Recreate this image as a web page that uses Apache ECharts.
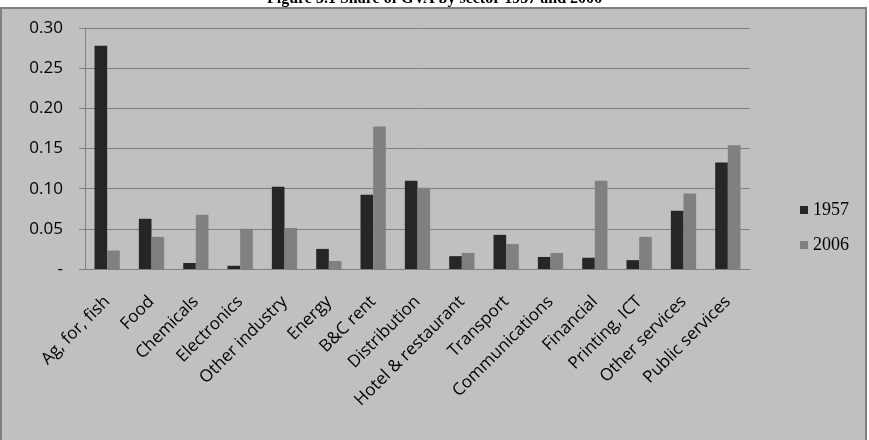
<!DOCTYPE html>
<html>
<head>
<meta charset="utf-8">
<script src="https://cdn.jsdelivr.net/npm/echarts@6/dist/echarts.min.js"></script>
<style>
  html, body { margin: 0; padding: 0; background: #fff; }
  #chart { width: 869px; height: 440px; }
</style>
</head>
<body>
<div id="chart"></div>
<script>
// sectors along the x axis
const sectors = ['Ag, for, fish', 'Food', 'Chemicals', 'Electronics', 'Other industry', 'Energy', 'B&C rent',
  'Distribution', 'Hotel & restaurant', 'Transport', 'Communications', 'Financial', 'Printing, ICT',
  'Other services', 'Public services']
// share of GVA, 1957
const share1957 = [0.278, 0.0625, 0.0075, 0.004, 0.1025, 0.025, 0.0925, 0.11, 0.016, 0.0425, 0.015, 0.014, 0.011, 0.0725, 0.1325]
// share of GVA, 2006
const share2006 = [0.023, 0.040, 0.0675, 0.050, 0.051, 0.010, 0.1775, 0.101, 0.020, 0.031, 0.020, 0.110, 0.040, 0.094, 0.154]
const seriesNames = ['1957', '2006']

const chart = echarts.init(document.getElementById('chart'))
chart.setOption({
  animation: false,
  title: {
    text: 'Figure 5.1 Share of GVA by sector 1957 and 2006',
    left: 'center',
    top: -14,
    textStyle: {fontFamily: 'Liberation Serif', fontWeight: 'bold', fontSize: 16, color: '#000'}
  },
  // grey chart frame behind everything
  graphic: [{
    type: 'rect',
    z: -10,
    silent: true,
    shape: {x: 1, y: 8, width: 865, height: 440},
    style: {fill: '#c0c0c0', stroke: '#808080', lineWidth: 2}
  }],
  legend: {
    orient: 'vertical',
    left: 795,
    top: 196,
    itemWidth: 8,
    itemHeight: 8,
    itemGap: 17,
    icon: 'rect',
    textStyle: {fontFamily: 'Liberation Serif', fontSize: 18, color: '#000'},
    data: seriesNames
  },
  grid: {left: 85, right: 119, top: 28, bottom: 171},
  xAxis: {
    type: 'category',
    data: sectors,
    axisLine: {lineStyle: {color: '#808080', width: 1}},
    axisTick: {length: 6, lineStyle: {color: '#808080'}},
    axisLabel: {
      rotate: 45,
      interval: 0,
      margin: 30,
      fontFamily: 'Open Sans',
      fontSize: 17,
      color: '#000'
    }
  },
  yAxis: {
    type: 'value',
    min: 0,
    max: 0.3,
    interval: 0.05,
    axisLine: {show: true, lineStyle: {color: '#808080', width: 1}},
    axisTick: {show: true, length: 6, lineStyle: {color: '#808080'}},
    splitLine: {lineStyle: {color: '#808080', width: 1}},
    axisLabel: {
      margin: 22,
      fontFamily: 'Open Sans',
      fontSize: 17,
      color: '#000',
      formatter: v => v === 0 ? '-' : v.toFixed(2)
    }
  },
  series: [
    {
      name: seriesNames[0],
      type: 'bar',
      data: share1957,
      barGap: '0%',
      barCategoryGap: '43%',
      itemStyle: {color: '#262626'}
    },
    {
      name: seriesNames[1],
      type: 'bar',
      data: share2006,
      barGap: '0%',
      barCategoryGap: '43%',
      itemStyle: {color: '#808080'}
    }
  ]
})
</script>
</body>
</html>
